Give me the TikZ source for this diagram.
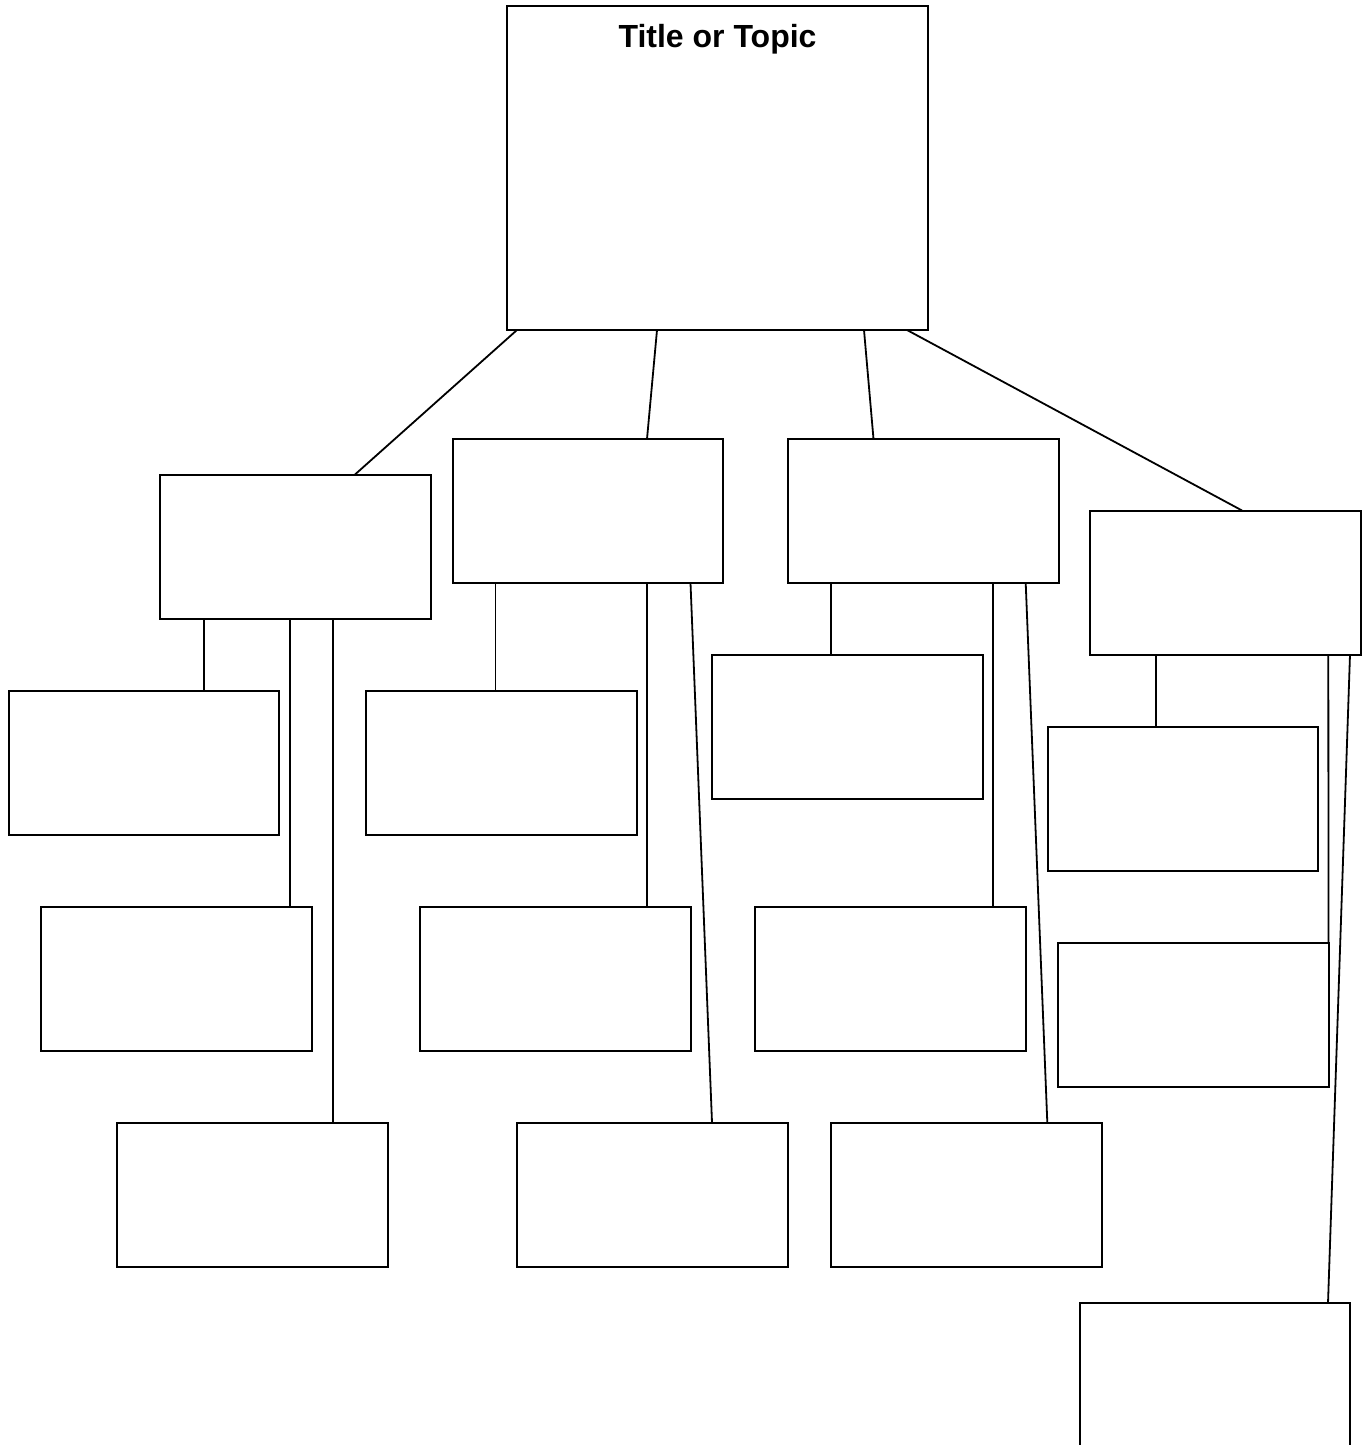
\documentclass[tikz,border=0pt]{standalone}
\usepackage{fontspec}
\setmainfont{Liberation Sans}
\begin{document}
\begin{tikzpicture}[x=1pt,y=-1pt,
  box/.style={draw=black,line width=2pt,fill=white,anchor=north west,inner sep=0pt,outer sep=0pt,
    minimum width=270.5pt,minimum height=144pt},
  link/.style={draw=black,line width=1.8pt}]
\clip (0,0) rectangle (1368,1445);
\fill[white] (0,0) rectangle (1368,1445);
% top
\node[box,minimum width=421pt,minimum height=324pt] (top) at (507,6) {};
\node[anchor=base,inner sep=0pt,font=\fontsize{32}{38}\selectfont\bfseries] (title) at (717.5,48) {Title or Topic};
% level 1
\node[box] (A) at (160,474.5) {};
\node[box] (B) at (452.5,439) {};
\node[box] (C) at (788,439) {};
\node[box] (D) at (1090,510.5) {};
% level 2
\node[box] (A1) at (8.7,690.5) {};
\node[box] (A2) at (41,906.5) {};
\node[box] (A3) at (117,1122.5) {};
\node[box] (B1) at (366,690.5) {};
\node[box] (B2) at (420,906.5) {};
\node[box] (B3) at (517,1122.5) {};
\node[box] (C1) at (712,654.5) {};
\node[box] (C2) at (755,906.5) {};
\node[box] (C3) at (831,1122.5) {};
\node[box] (D1) at (1047.5,726.5) {};
\node[box] (D2) at (1058,942.5) {};
\node[box,minimum height=200pt] (D3) at (1079.5,1303) {};
% connectors from top
\draw[link] ([xshift=10pt]top.south west) -- ([xshift=195pt]A.north west);
\draw[link] ([xshift=150pt]top.south west) -- ([xshift=194.5pt]B.north west);
\draw[link] ([xshift=357pt]top.south west) -- ([xshift=85.5pt]C.north west);
\draw[link] ([xshift=400pt]top.south west) -- ([xshift=152pt]D.north west);
% A children
\draw[link] ([xshift=44pt]A.south west) -- ([xshift=195.3pt]A1.north west);
\draw[link] ([xshift=130pt]A.south west) -- ([xshift=249pt]A2.north west);
\draw[link] ([xshift=173pt]A.south west) -- ([xshift=216pt]A3.north west);
% B children
\draw[link] ([xshift=43pt]B.south west) -- ([xshift=129.5pt]B1.north west);
\draw[link] ([xshift=194.5pt]B.south west) -- ([xshift=227pt]B2.north west);
\draw[link] ([xshift=238pt]B.south west) -- ([xshift=195pt]B3.north west);
% C children
\draw[link] ([xshift=43pt]C.south west) -- ([xshift=119pt]C1.north west);
\draw[link] ([xshift=205.3pt]C.south west) -- ([xshift=238.3pt]C2.north west);
\draw[link] ([xshift=237.7pt]C.south west) -- ([xshift=216.3pt]C3.north west);
% D children
\draw[link] ([xshift=65.7pt]D.south west) -- ([xshift=108.2pt]D1.north west);
\draw[link] ([xshift=238.3pt]D.south west) -- (D2.north east);
\draw[link] ([xshift=260pt]D.south west) -- ([xshift=248.5pt]D3.north west);
\end{tikzpicture}
\end{document}
